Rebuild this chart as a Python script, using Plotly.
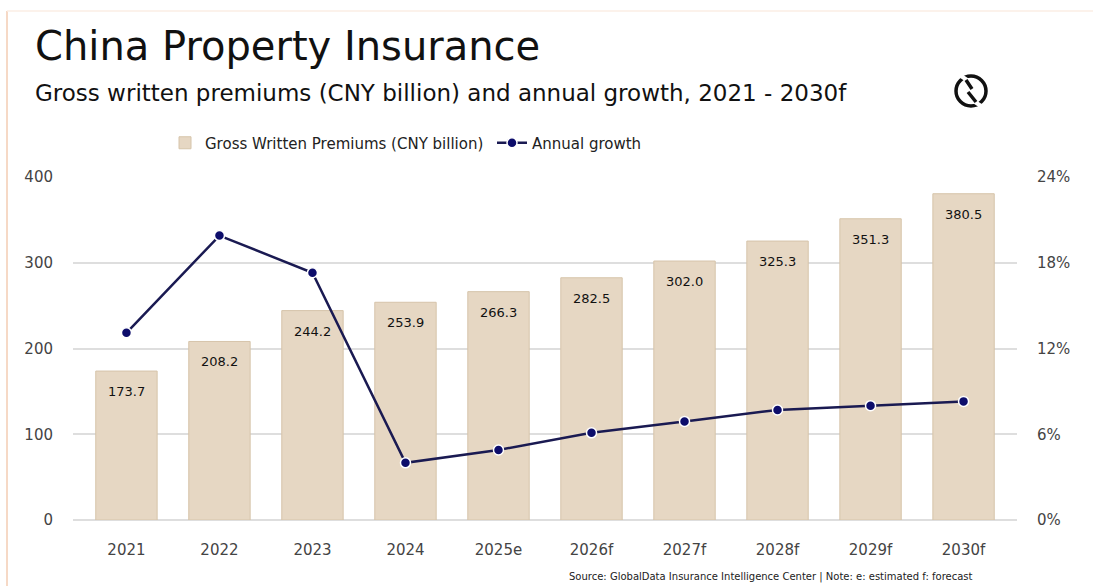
import plotly.graph_objects as go

years = ["2021", "2022", "2023", "2024", "2025e", "2026f", "2027f", "2028f", "2029f", "2030f"]
premiums = [173.7, 208.2, 244.2, 253.9, 266.3, 282.5, 302.0, 325.3, 351.3, 380.5]
growth = [13.1, 19.9, 17.3, 4.0, 4.9, 6.1, 6.9, 7.7, 8.0, 8.3]
left_ticks = [0, 100, 200, 300, 400]
right_ticks = [0, 6, 12, 18, 24]

W, H = 1093, 586
L, R, T, B = 73, 1017, 177, 520  # plot area pixels


def px(x, y):
    return (x - L) / (R - L), (B - y) / (B - T)


FONT = "DejaVu Sans"
BAR = "#e6d7c3"
NAVY = "#0d0d6b"

fig = go.Figure()
fig.add_trace(go.Bar(
    x=years, y=premiums, name="Gross Written Premiums (CNY billion)",
    marker=dict(color=BAR, line=dict(color="#d6c4aa", width=1)),
    width=0.66, yaxis="y",
))
fig.add_trace(go.Scatter(
    x=years, y=growth, name="Annual growth", yaxis="y2",
    mode="lines+markers",
    line=dict(color="#1a1a52", width=2.5),
    marker=dict(color=NAVY, size=10, line=dict(color="white", width=1.5)),
))

annotations = []
for i, v in enumerate(premiums):
    annotations.append(dict(
        x=i, y=v, xref="x", yref="y", text=f"{v:.1f}", showarrow=False,
        yanchor="top", yshift=-11,
        font=dict(family=FONT, size=13, color="#111111"),
    ))

tx, ty = px(33, 46)
annotations.append(dict(x=tx, y=ty, xref="paper", yref="paper", xanchor="left", yanchor="middle",
                        text="China Property Insurance", showarrow=False,
                        font=dict(family=FONT, size=40, color="#111111")))
sx, sy = px(33, 93)
annotations.append(dict(x=sx, y=sy, xref="paper", yref="paper", xanchor="left", yanchor="middle",
                        text="Gross written premiums (CNY billion) and annual growth, 2021 - 2030f",
                        showarrow=False, font=dict(family=FONT, size=23, color="#111111")))
ox, oy = px(975, 577)
annotations.append(dict(x=ox, y=oy, xref="paper", yref="paper", xanchor="right", yanchor="middle",
                        text="Source: GlobalData Insurance Intelligence Center | Note: e: estimated f: forecast",
                        showarrow=False, font=dict(family=FONT, size=10, color="#222222")))

shapes = []
# border lines (peach)
x0, y0 = px(7, 11)
x1, y1 = px(1093, 586)
shapes.append(dict(type="line", xref="paper", yref="paper", x0=x0, x1=x0, y0=y0, y1=y1,
                   line=dict(color="#f6d9c6", width=2)))
shapes.append(dict(type="line", xref="paper", yref="paper", x0=x0, x1=x1, y0=y0, y1=y0,
                   line=dict(color="#fbeee4", width=1.5)))
# logo: circle + inner zigzag
cx0, cy0 = px(956, 76)
cx1, cy1 = px(986, 106)
shapes.append(dict(type="circle", xref="paper", yref="paper", x0=cx0, x1=cx1, y0=cy1, y1=cy0,
                   line=dict(color="#111111", width=3.5)))
g1a = px(961, 76); g1b = px(967, 80)
shapes.append(dict(type="line", xref="paper", yref="paper", x0=g1a[0], y0=g1a[1], x1=g1b[0], y1=g1b[1],
                   line=dict(color="white", width=4)))
g2a = px(975, 102); g2b = px(981, 106)
shapes.append(dict(type="line", xref="paper", yref="paper", x0=g2a[0], y0=g2a[1], x1=g2b[0], y1=g2b[1],
                   line=dict(color="white", width=4)))
p = [px(966, 80), px(972, 89), px(968, 92), px(976, 102)]
path = "M {} {} L {} {} M {} {} L {} {}".format(p[0][0], p[0][1], p[1][0], p[1][1],
                                                p[2][0], p[2][1], p[3][0], p[3][1])
shapes.append(dict(type="path", xref="paper", yref="paper", path=path,
                   line=dict(color="#111111", width=3.5)))

lx, ly = px(165, 143)

fig.update_layout(
    width=W, height=H,
    margin=dict(l=L, r=W - R, t=T, b=H - B),
    paper_bgcolor="white", plot_bgcolor="white",
    font=dict(family=FONT, color="#444444"),
    showlegend=True,
    legend=dict(orientation="h", x=lx, y=ly, xanchor="left", yanchor="middle",
                font=dict(family=FONT, size=15, color="#222222"),
                entrywidth=282, entrywidthmode="pixels",
                bgcolor="rgba(0,0,0,0)"),
    xaxis=dict(type="category", showgrid=False, showline=False,
               ticks="outside", ticklen=16, tickcolor="rgba(0,0,0,0)",
               tickfont=dict(size=15, color="#444444")),
    yaxis=dict(range=[0, 400], tickvals=left_ticks, showgrid=True, gridcolor="#dedede", gridwidth=1.5,
               zeroline=True, zerolinecolor="#dedede", zerolinewidth=1.5, showline=False,
               ticks="outside", ticklen=16, tickcolor="rgba(0,0,0,0)",
               tickfont=dict(size=15, color="#444444")),
    yaxis2=dict(range=[0, 24], tickvals=right_ticks, ticktext=[f"{v}%" for v in right_ticks],
                overlaying="y", side="right",
                showgrid=False, zeroline=False, showline=False,
                ticks="outside", ticklen=16, tickcolor="rgba(0,0,0,0)",
                tickfont=dict(size=15, color="#444444")),
    annotations=annotations,
    shapes=shapes,
)

fig.write_html("out.html", config={"displayModeBar": False},
               post_script="document.body.style.margin='0';")
